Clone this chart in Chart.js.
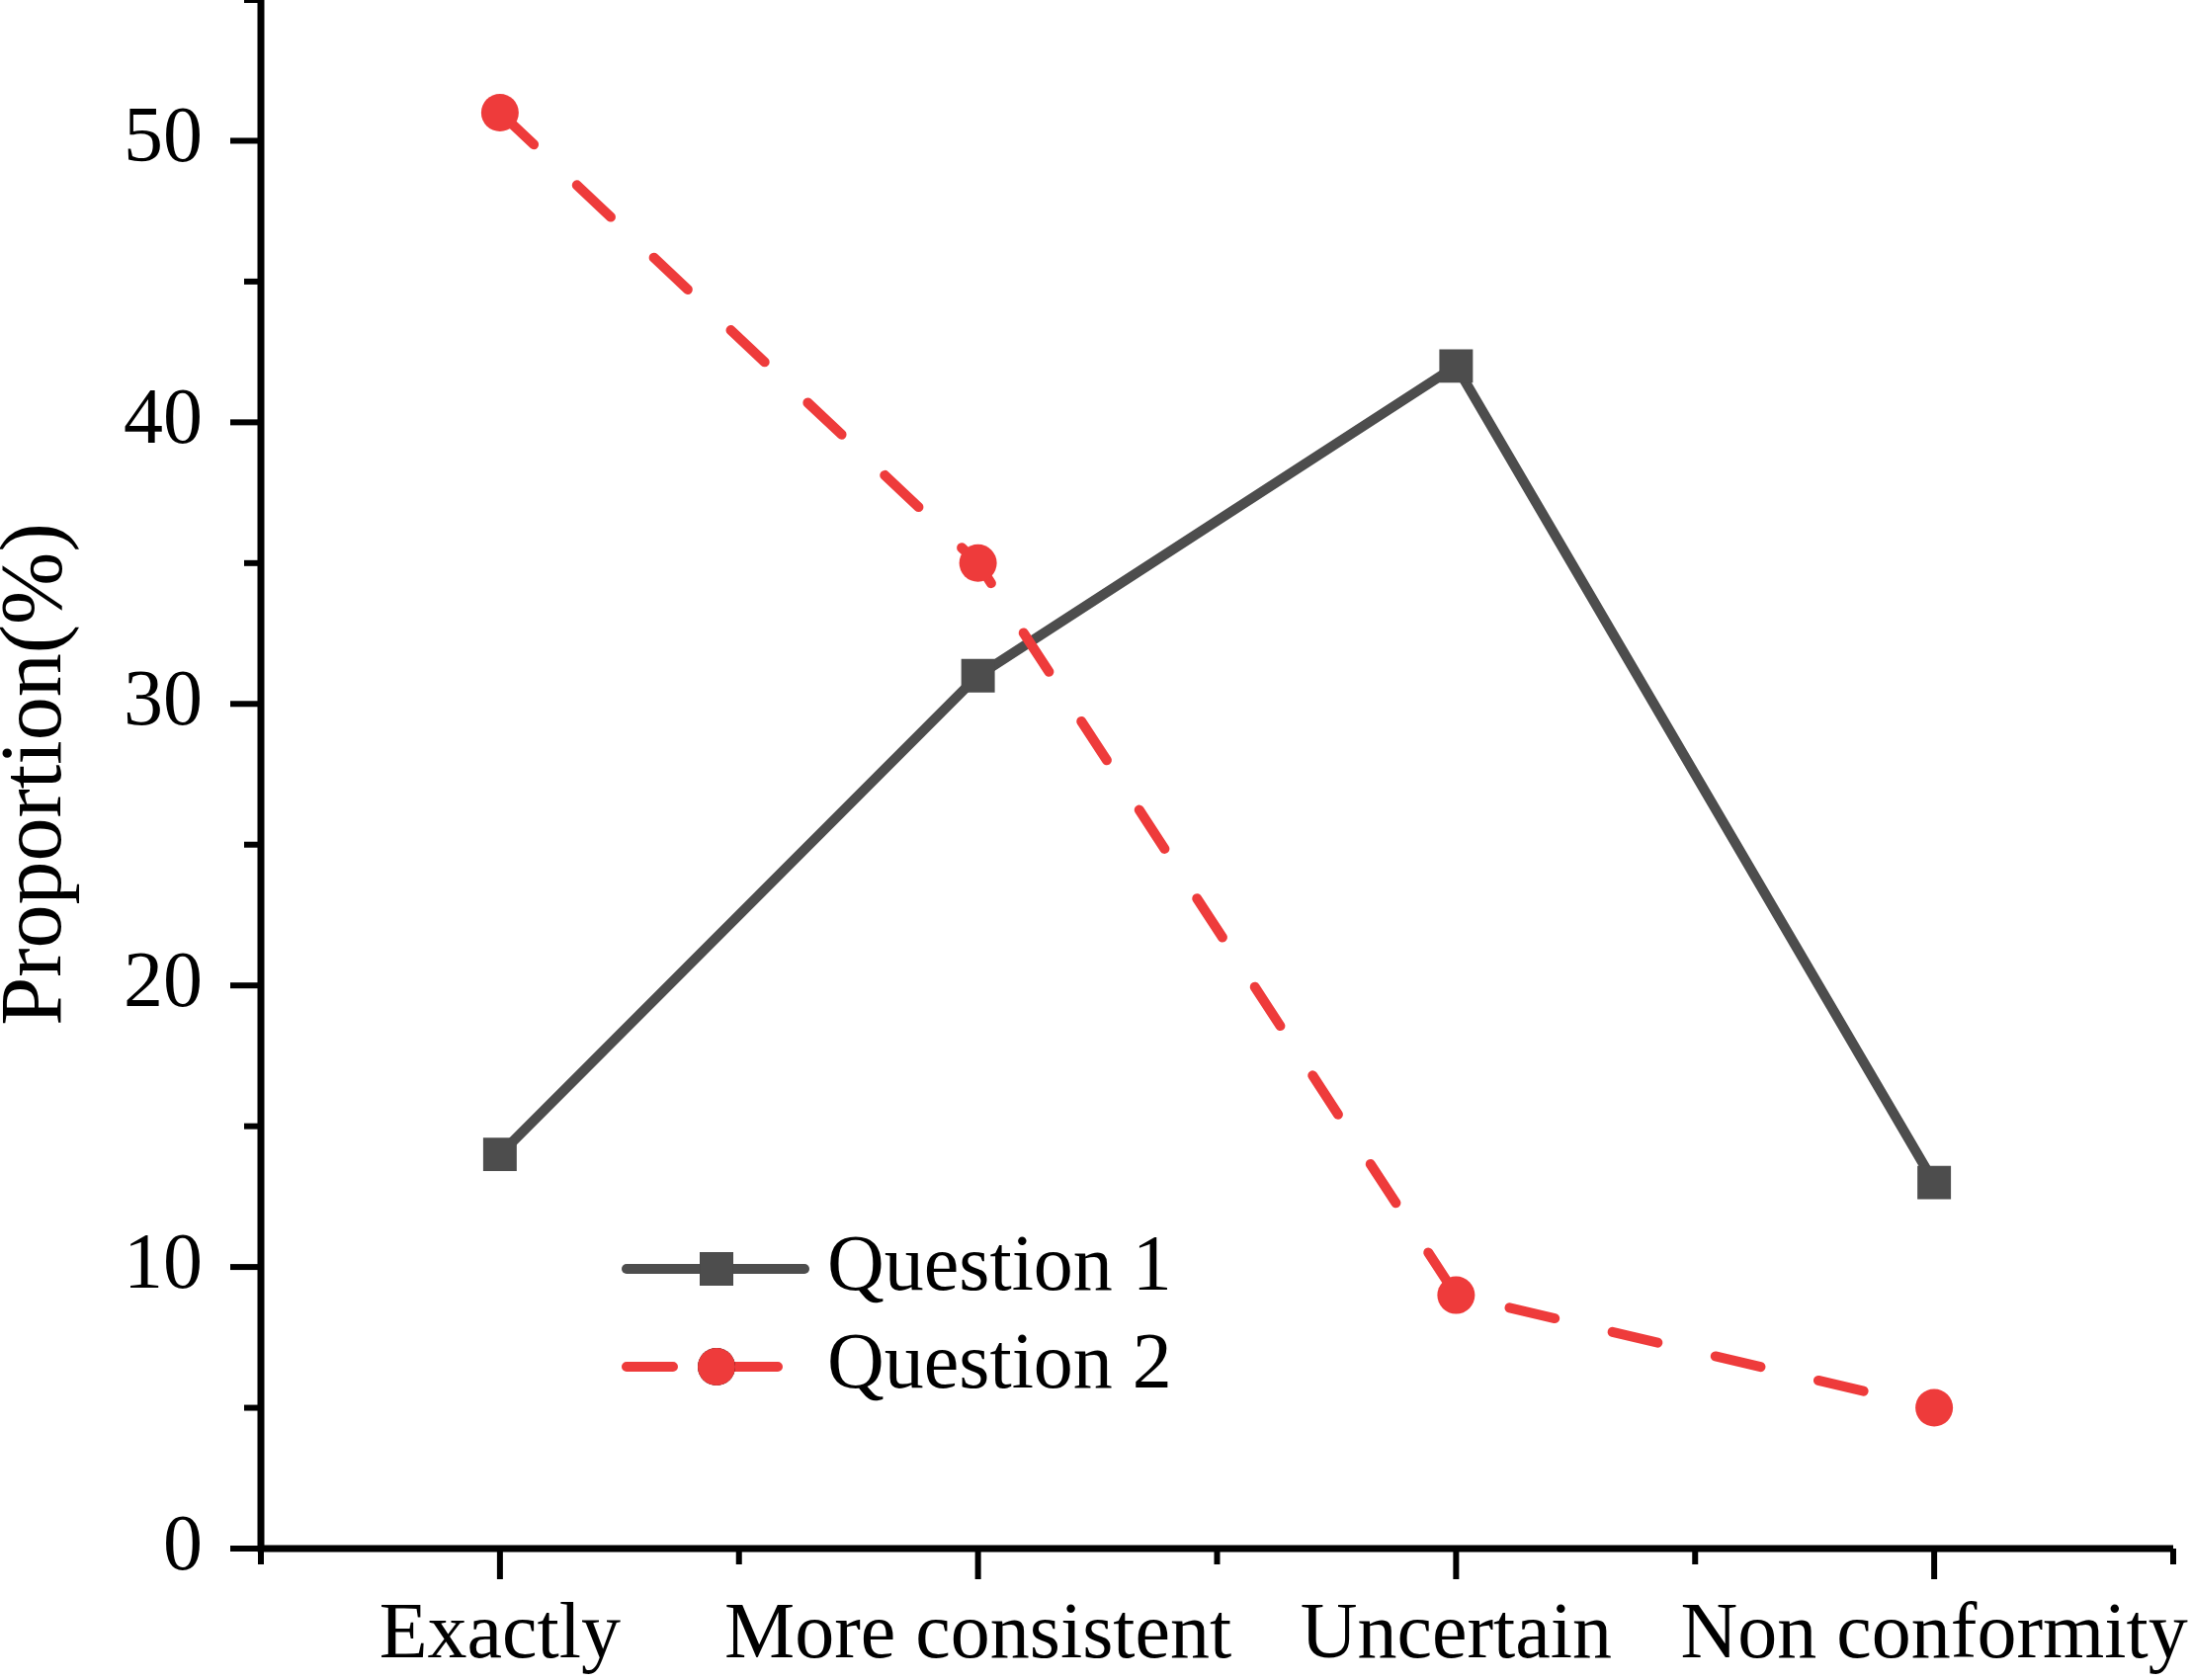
<!DOCTYPE html>
<html>
<head>
<meta charset="utf-8">
<script src="https://cdn.jsdelivr.net/npm/chart.js@4/dist/chart.umd.min.js"></script>
<style>
  body { margin: 0; background: #fff; }
  #wrap { width: 2217px; height: 1700px; }
</style>
</head>
<body>
<div id="wrap"><canvas id="myChart" width="2217" height="1700"></canvas></div>
<script>
const categories = ["Exactly", "More consistent", "Uncertain", "Non conformity"];
const question1 = [14, 31, 42, 13];
const question2 = [51, 35, 9, 5];
const yTicks = [0, 10, 20, 30, 40, 50];

const grey = "#4d4d4d";
const red = "#ee3b3b";
const serif = "'Liberation Serif', 'Times New Roman', serif";

// axis lines and tick marks, drawn from the scales
const axisFrame = {
  id: "axisFrame",
  beforeDatasetsDraw(chart) {
    const ctx = chart.ctx;
    const x = chart.scales.x;
    const y = chart.scales.y;
    const left = chart.chartArea.left;
    const bottom = chart.chartArea.bottom;
    ctx.save();
    ctx.strokeStyle = "#000";
    ctx.lineCap = "butt";

    ctx.lineWidth = 6;
    y.ticks.forEach((t) => {
      const py = y.getPixelForValue(t.value);
      const len = yTicks.includes(t.value) ? 31 : 17;
      ctx.beginPath();
      ctx.moveTo(left - len, py);
      ctx.lineTo(left, py);
      ctx.stroke();
    });
    for (let i = 0; i <= categories.length; i++) {
      const px = x.getPixelForValue(i - 0.5);
      ctx.beginPath();
      ctx.moveTo(px, bottom);
      ctx.lineTo(px, bottom + 16);
      ctx.stroke();
    }
    for (let i = 0; i < categories.length; i++) {
      const px = x.getPixelForValue(i);
      ctx.beginPath();
      ctx.moveTo(px, bottom);
      ctx.lineTo(px, bottom + 31);
      ctx.stroke();
    }

    ctx.lineWidth = 7;
    ctx.beginPath();
    ctx.moveTo(left, chart.chartArea.top);
    ctx.lineTo(left, bottom);
    ctx.lineTo(chart.chartArea.right, bottom);
    ctx.stroke();
    ctx.restore();
  },
};

// legend inside the plot area
const innerLegend = {
  id: "innerLegend",
  afterDraw(chart) {
    const ctx = chart.ctx;
    const x0 = chart.chartArea.left + 370;
    const rows = [chart.chartArea.top + 1284, chart.chartArea.top + 1383];
    ctx.save();
    chart.data.datasets.forEach((ds, i) => {
      const yy = rows[i];
      const dashed = ds.borderDash && ds.borderDash.length;
      ctx.strokeStyle = ds.borderColor;
      ctx.lineWidth = ds.borderWidth;
      ctx.lineCap = "round";
      ctx.setLineDash(dashed ? ds.borderDash : []);
      ctx.beginPath();
      ctx.moveTo(x0, yy);
      ctx.lineTo(dashed ? x0 + 153 : x0 + 180, yy);
      ctx.stroke();
      ctx.setLineDash([]);
      Chart.helpers.drawPoint(ctx, {
        pointStyle: ds.pointStyle,
        radius: ds.pointRadius,
        borderWidth: 0,
      }, x0 + 91, yy);
      ctx.fillStyle = ds.pointBackgroundColor;
      ctx.fill();
      ctx.fillStyle = "#000";
      ctx.font = "80px " + serif;
      ctx.textBaseline = "middle";
      ctx.textAlign = "left";
      ctx.fillText(ds.label, x0 + 203, yy);
    });
    ctx.restore();
  },
};

const config = {
  type: "line",
  data: {
    labels: categories,
    datasets: [
      {
        label: "Question 1",
        data: question1,
        borderColor: grey,
        backgroundColor: grey,
        borderWidth: 10,
        pointStyle: "rect",
        pointRadius: 24,
        pointBackgroundColor: grey,
        pointBorderWidth: 0,
        order: 2,
      },
      {
        label: "Question 2",
        data: question2,
        borderColor: red,
        backgroundColor: red,
        borderWidth: 10,
        borderDash: [47, 60],
        borderCapStyle: "round",
        pointStyle: "circle",
        pointRadius: 19,
        pointBackgroundColor: red,
        pointBorderWidth: 0,
        order: 1,
      },
    ],
  },
  options: {
    responsive: false,
    animation: false,
    devicePixelRatio: 1,
    layout: { autoPadding: false, padding: { top: 0, right: 18, left: 0, bottom: 0 } },
    plugins: {
      legend: { display: false },
      tooltip: { enabled: false },
    },
    scales: {
      x: {
        type: "category",
        offset: true,
        grid: { display: false, drawTicks: false },
        border: { display: false },
        ticks: {
          color: "#000",
          font: { family: serif, size: 80 },
          padding: 41,
          maxRotation: 0,
          autoSkip: false,
        },
        afterFit(scale) {
          scale.height = 133;
          scale.paddingLeft = 0;
          scale.paddingRight = 0;
        },
      },
      y: {
        min: 0,
        max: 55,
        grid: { display: false, drawTicks: false },
        border: { display: false },
        ticks: {
          stepSize: 5,
          color: "#000",
          font: { family: serif, size: 80 },
          padding: 59,
          callback: (v) => (yTicks.includes(v) ? String(v) : ""),
        },
        title: {
          display: true,
          text: "Proportion(%)",
          color: "#000",
          font: { family: serif, size: 88, lineHeight: 0.85 },
          padding: 0,
        },
        afterFit(scale) {
          scale.width = 264;
          scale.paddingTop = 0;
          scale.paddingBottom = 0;
        },
      },
    },
  },
  plugins: [axisFrame, innerLegend],
};

const myChart = new Chart(document.getElementById("myChart"), config);
</script>
</body>
</html>
